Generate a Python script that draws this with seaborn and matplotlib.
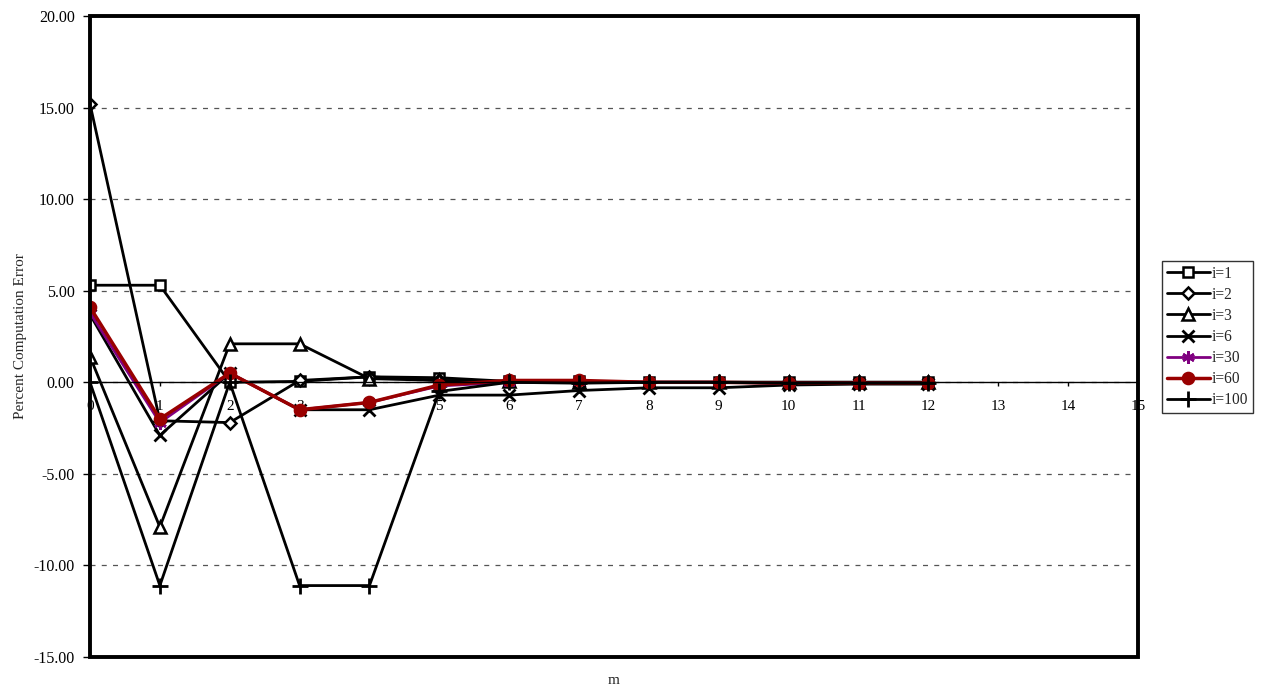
import matplotlib
matplotlib.use('Agg')
import matplotlib.pyplot as plt
import seaborn as sns
from matplotlib.patches import Rectangle

# ---- data ----
m = list(range(13))
i1 = [5.3, 5.3, 0.0, 0.05, 0.3, 0.25, 0.05, 0.05, 0.0, 0.0, 0.0, 0.0, 0.0]
i2 = [15.2, -2.1, -2.2, 0.1, 0.3, 0.1, 0.0, 0.0, 0.0, 0.0, 0.0, 0.0, 0.0]
i3 = [1.4, -7.9, 2.1, 2.1, 0.2, 0.1, 0.05, 0.0, 0.0, 0.0, 0.0, 0.0, 0.0]
i6 = [3.7, -2.9, 0.5, -1.5, -1.5, -0.7, -0.7, -0.45, -0.3, -0.3, -0.15, -0.1, -0.1]
i30 = [3.8, -2.2, 0.5, -1.5, -1.1, -0.2, 0.0, 0.05, 0.0, 0.0, -0.05, -0.05, -0.05]
i60 = [4.1, -2.0, 0.5, -1.5, -1.1, -0.15, 0.1, 0.1, 0.0, 0.0, -0.05, -0.05, -0.05]
i100 = [0.0, -11.1, 0.0, -11.1, -11.1, -0.5, 0.0, -0.05, 0.0, 0.0, -0.05, -0.05, -0.05]
labels = ["i=1", "i=2", "i=3", "i=6", "i=30", "i=60", "i=100"]
yticks = [20, 15, 10, 5, 0, -5, -10, -15]
xticks = list(range(16))

series = [i1, i2, i3, i6, i30, i60, i100]
styles = [
    dict(color="black", marker="s", mfc="white", ms=7, lw=2),
    dict(color="black", marker="D", mfc="white", ms=6, lw=2),
    dict(color="black", marker="^", mfc="white", ms=8, lw=2),
    dict(color="black", marker="x", mfc="black", ms=8, lw=2, mew=2),
    dict(color="#800080", marker=(6, 2, 0), mfc="#800080", ms=9, lw=2, mew=2),
    dict(color="#990000", marker="o", mfc="#990000", ms=8, lw=2.5),
    dict(color="black", marker="+", mfc="black", ms=11, lw=2, mew=2),
]

sns.set_theme(style="white")
plt.rcParams['font.family'] = ['Liberation Serif', 'DejaVu Serif']

fig = plt.figure(figsize=(12.65, 6.93), dpi=100)
ax = fig.add_axes([90/1265, 1-657/693, (1138-90)/1265, (657-16)/693])

for vals, lab, st in zip(series, labels, styles):
    kw = dict(st)
    if "mew" not in kw:
        kw["mew"] = 1.8
    sns.lineplot(x=m, y=vals, ax=ax, label=lab, markeredgecolor=st["color"], **kw)

ax.set_xlim(0, 15)
ax.set_ylim(-15, 20)
ax.set_yticks(yticks)
ax.set_yticklabels([f"{v:.2f}" for v in yticks], fontsize=11.5)
ax.set_xticks(xticks)
ax.set_xticklabels([str(v) for v in xticks], fontsize=11.5)

# grid
ax.yaxis.grid(True, linestyle=(0, (4, 5)), color="#555555", lw=0.9)
ax.xaxis.grid(False)

# spines: bottom at y=0 for the x axis, frame drawn separately
for s in ["top", "right", "left"]:
    ax.spines[s].set_visible(False)
ax.spines["bottom"].set_position(("data", 0))
ax.spines["bottom"].set_color("black")
ax.spines["bottom"].set_linewidth(1)
ax.add_patch(Rectangle((0, 0), 1, 1, transform=ax.transAxes, fill=False,
                       lw=2.8, edgecolor="black", clip_on=False, zorder=5))
ax.tick_params(axis="y", left=True, length=5, width=1, color="black", pad=6, labelcolor="black")
ax.tick_params(axis="x", bottom=True, length=3, width=1, color="black", pad=10, labelcolor="black")

ax.set_ylabel("Percent Computation Error", fontsize=11, labelpad=5)
ax.set_xlabel("")
fig.text(614/1265, 1-680/693, "m", ha="center", va="center", fontsize=11)

leg = ax.legend(loc="upper left", bbox_to_anchor=(1162/1265, 1-261/693),
                bbox_transform=fig.transFigure, frameon=True, fancybox=False,
                edgecolor="black", fontsize=11.2, handlelength=2.8,
                handletextpad=0.1, labelspacing=0.33, borderpad=0.3,
                borderaxespad=0)
leg.get_frame().set_linewidth(1)

fig.savefig("out.png", dpi=100, facecolor="white")
